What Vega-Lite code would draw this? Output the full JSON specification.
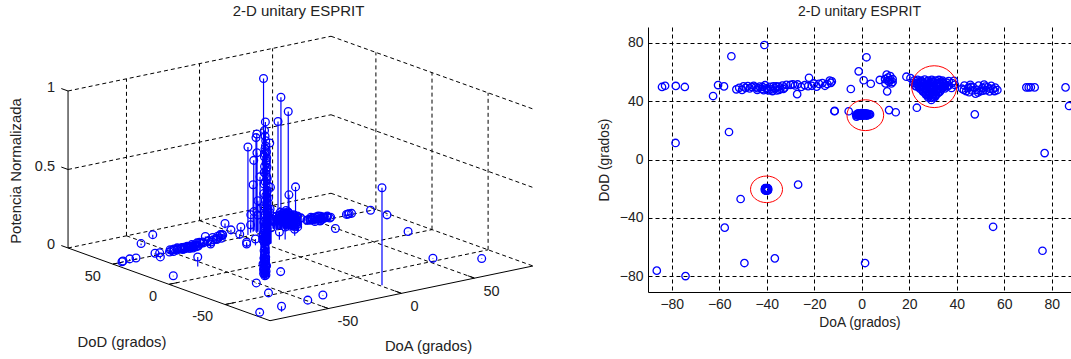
{"$schema":"https://vega.github.io/schema/vega-lite/v6.json","padding":{"left":0,"top":4,"right":0,"bottom":0},"spacing":0,"config":{"view":{"stroke":null},"font":"Liberation Sans","title":{"font":"Liberation Sans","color":"#222222","fontWeight":"normal"}},
"data":{"values":[
{"kind":"grid","line":"f1","doa":-50,"dod":-90,"z":0},{"kind":"grid","line":"f1","doa":-50,"dod":90,"z":0},
{"kind":"grid","line":"f2","doa":0,"dod":-90,"z":0},{"kind":"grid","line":"f2","doa":0,"dod":90,"z":0},
{"kind":"grid","line":"f3","doa":50,"dod":-90,"z":0},{"kind":"grid","line":"f3","doa":50,"dod":90,"z":0},
{"kind":"grid","line":"f4","doa":-90,"dod":-50,"z":0},{"kind":"grid","line":"f4","doa":90,"dod":-50,"z":0},
{"kind":"grid","line":"f5","doa":-90,"dod":0,"z":0},{"kind":"grid","line":"f5","doa":90,"dod":0,"z":0},
{"kind":"grid","line":"f6","doa":-90,"dod":50,"z":0},{"kind":"grid","line":"f6","doa":90,"dod":50,"z":0},
{"kind":"grid","line":"e1","doa":-90,"dod":90,"z":0},{"kind":"grid","line":"e1","doa":90,"dod":90,"z":0},
{"kind":"grid","line":"e2","doa":90,"dod":90,"z":0},{"kind":"grid","line":"e2","doa":90,"dod":-90,"z":0},
{"kind":"grid","line":"w1","doa":-90,"dod":90,"z":0.5},{"kind":"grid","line":"w1","doa":90,"dod":90,"z":0.5},
{"kind":"grid","line":"w2","doa":-90,"dod":90,"z":1},{"kind":"grid","line":"w2","doa":90,"dod":90,"z":1},
{"kind":"grid","line":"w3","doa":90,"dod":90,"z":0.5},{"kind":"grid","line":"w3","doa":90,"dod":-90,"z":0.5},
{"kind":"grid","line":"w4","doa":90,"dod":90,"z":1},{"kind":"grid","line":"w4","doa":90,"dod":-90,"z":1},
{"kind":"grid","line":"v1","doa":-50,"dod":90,"z":0},{"kind":"grid","line":"v1","doa":-50,"dod":90,"z":1},
{"kind":"grid","line":"v2","doa":0,"dod":90,"z":0},{"kind":"grid","line":"v2","doa":0,"dod":90,"z":1},
{"kind":"grid","line":"v3","doa":50,"dod":90,"z":0},{"kind":"grid","line":"v3","doa":50,"dod":90,"z":1},
{"kind":"grid","line":"v4","doa":90,"dod":50,"z":0},{"kind":"grid","line":"v4","doa":90,"dod":50,"z":1},
{"kind":"grid","line":"v5","doa":90,"dod":0,"z":0},{"kind":"grid","line":"v5","doa":90,"dod":0,"z":1},
{"kind":"grid","line":"v6","doa":90,"dod":-50,"z":0},{"kind":"grid","line":"v6","doa":90,"dod":-50,"z":1},
{"kind":"solid","line":"s1","doa":-90,"dod":90,"z":0},{"kind":"solid","line":"s1","doa":-90,"dod":90,"z":1},
{"kind":"solid","line":"s2","doa":-90,"dod":90,"z":0},{"kind":"solid","line":"s2","doa":-90,"dod":-90,"z":0},
{"kind":"solid","line":"s3","doa":-90,"dod":-90,"z":0},{"kind":"solid","line":"s3","doa":90,"dod":-90,"z":0},
{"kind":"solid","line":"t1","doa":-90,"dod":90,"z":1},{"kind":"solid","line":"t1","doa":-90,"dod":96,"z":1},
{"kind":"solid","line":"t2","doa":-90,"dod":90,"z":0.5},{"kind":"solid","line":"t2","doa":-90,"dod":96,"z":0.5},
{"kind":"solid","line":"t3","doa":-90,"dod":90,"z":0},{"kind":"solid","line":"t3","doa":-90,"dod":96,"z":0},
{"kind":"solid","line":"t4","doa":-90,"dod":50,"z":0},{"kind":"solid","line":"t4","doa":-84,"dod":50,"z":0},
{"kind":"solid","line":"t5","doa":-90,"dod":0,"z":0},{"kind":"solid","line":"t5","doa":-84,"dod":0,"z":0},
{"kind":"solid","line":"t6","doa":-90,"dod":-50,"z":0},{"kind":"solid","line":"t6","doa":-84,"dod":-50,"z":0},
{"kind":"solid","line":"t7","doa":-50,"dod":-90,"z":0},{"kind":"solid","line":"t7","doa":-50,"dod":-84,"z":0},
{"kind":"solid","line":"t8","doa":0,"dod":-90,"z":0},{"kind":"solid","line":"t8","doa":0,"dod":-84,"z":0},
{"kind":"solid","line":"t9","doa":50,"dod":-90,"z":0},{"kind":"solid","line":"t9","doa":50,"dod":-84,"z":0},
{"kind":"zl","label":"1","doa":-90,"dod":90,"z":1},{"kind":"zl","label":"0.5","doa":-90,"dod":90,"z":0.5},{"kind":"zl","label":"0","doa":-90,"dod":90,"z":0},
{"kind":"dl","label":"50","doa":-90,"dod":50,"z":0},{"kind":"dl","label":"0","doa":-90,"dod":0,"z":0},{"kind":"dl","label":"-50","doa":-90,"dod":-50,"z":0},
{"kind":"al","label":"-50","doa":-50,"dod":-90,"z":0},{"kind":"al","label":"0","doa":0,"dod":-90,"z":0},{"kind":"al","label":"50","doa":50,"dod":-90,"z":0},
{"kind":"td","label":"DoD (grados)","doa":-90,"dod":0,"z":0},
{"kind":"ta","label":"DoA (grados)","doa":0,"dod":-90,"z":0},
{"kind":"tz","label":"Potencia Normalizada","doa":-90,"dod":90,"z":0.5},
{"doa":-84.1,"dod":49.6,"z":0.005},{"doa":-82.8,"dod":50.4,"z":0.005},{"doa":-78.3,"dod":50.3,"z":0.01},{"doa":-74.5,"dod":49.6,"z":0.01},
{"doa":-62.6,"dod":43.4,"z":0.01},{"doa":-60.5,"dod":50.9,"z":0.01},{"doa":-58,"dod":50,"z":0.01},{"doa":-54.9,"dod":70.6,"z":0.01},
{"doa":-55.9,"dod":18.8,"z":0.06},{"doa":-78.4,"dod":11.3,"z":0.003},{"doa":-41,"dod":78.3,"z":0.02},{"doa":-27.2,"dod":44.7,"z":0.02},
{"doa":-22.2,"dod":55.9,"z":0.03},{"doa":-11.4,"dod":33.2,"z":0.03},{"doa":2,"dod":69.9,"z":0.03},{"doa":-1.3,"dod":60.3,"z":0.02},
{"doa":0.8,"dod":54.2,"z":0.05},{"doa":3.8,"dod":51.8,"z":0.56},{"doa":-4.6,"dod":48.2,"z":0.03},{"doa":7.6,"dod":54.4,"z":0.05},
{"doa":10.7,"dod":46.6,"z":0.08},{"doa":-13.5,"dod":53.9,"z":0.03},{"doa":-11.5,"dod":33,"z":0.02},{"doa":-5.5,"dod":33,"z":0.04},
{"doa":-2.2,"dod":29.3,"z":0.05},{"doa":11.5,"dod":33.8,"z":0.05},{"doa":14.3,"dod":32.3,"z":0.08},{"doa":18.8,"dod":56.6,"z":0.07},
{"doa":20.5,"dod":55.7,"z":0.1},{"doa":23.2,"dod":35.4,"z":0.04},{"doa":47.6,"dod":30.9,"z":0.01},{"doa":57.1,"dod":47.5,"z":0.02},
{"doa":77,"dod":4.4,"z":0.002},{"doa":69.3,"dod":49.3,"z":0.01},{"doa":70.3,"dod":49.3,"z":0.01},{"doa":71.2,"dod":49.4,"z":0.01},{"doa":72.8,"dod":49.3,"z":0.01},
{"doa":85.8,"dod":49.3,"z":0.005},{"doa":87.3,"dod":36.6,"z":0.005},{"doa":-26.8,"dod":-17.2,"z":0.003},{"doa":-51,"dod":-27,"z":0.003},
{"doa":-57.7,"dod":-46.6,"z":0.003},{"doa":-36.6,"dod":-67.6,"z":0.003},{"doa":-49.4,"dod":-70.8,"z":0.003},{"doa":-86.3,"dod":-76,"z":0.01},
{"doa":-74.2,"dod":-79.7,"z":0.035},{"doa":55.3,"dod":-46,"z":0.003},{"doa":76.1,"dod":-62.4,"z":0.003},{"doa":1.4,"dod":-70.8,"z":0.62},
{"doa":-52.8,"dod":48,"z":0.01},{"doa":-51.6,"dod":49,"z":0.02},{"doa":-50.4,"dod":47.6,"z":0.01},{"doa":-49.8,"dod":50,"z":0.01},{"doa":-48.9,"dod":49,"z":0.02},
{"doa":-48,"dod":50.2,"z":0.01},{"doa":-47.2,"dod":48.6,"z":0.01},{"doa":-46.3,"dod":49.6,"z":0.02},{"doa":-45.5,"dod":50.4,"z":0.01},{"doa":-44.6,"dod":49.4,"z":0.01},
{"doa":-43.8,"dod":48.8,"z":0.02},{"doa":-43,"dod":49.8,"z":0.01},{"doa":-42.1,"dod":48.2,"z":0.01},{"doa":-41.3,"dod":47.4,"z":0.02},{"doa":-40.7,"dod":50.8,"z":0.01},
{"doa":-40,"dod":48.9,"z":0.02},{"doa":-39.3,"dod":47.2,"z":0.01},{"doa":-38.6,"dod":49.7,"z":0.01},{"doa":-38,"dod":48,"z":0.02},{"doa":-37.2,"dod":50,"z":0.01},
{"doa":-36.5,"dod":48.6,"z":0.01},{"doa":-35.8,"dod":47.3,"z":0.02},{"doa":-35,"dod":49.9,"z":0.01},{"doa":-34.3,"dod":48.5,"z":0.02},{"doa":-33.4,"dod":50.6,"z":0.01},
{"doa":-32.5,"dod":49.2,"z":0.01},{"doa":-31.7,"dod":51,"z":0.02},{"doa":-30,"dod":51,"z":0.02},{"doa":-29,"dod":51.4,"z":0.01},{"doa":-28.1,"dod":50.6,"z":0.02},
{"doa":-27,"dod":51.3,"z":0.01},{"doa":-25.5,"dod":49.6,"z":0.02},{"doa":-24,"dod":50.8,"z":0.02},{"doa":-22.6,"dod":50.2,"z":0.01},{"doa":-21,"dod":50.4,"z":0.02},
{"doa":-20.2,"dod":52,"z":0.03},{"doa":-19,"dod":49.8,"z":0.02},{"doa":-18,"dod":51.7,"z":0.02},{"doa":-16.6,"dod":52.2,"z":0.03},{"doa":-15.5,"dod":50.4,"z":0.02},
{"doa":-14.5,"dod":51.6,"z":0.03},{"doa":-13,"dod":52.4,"z":0.03},{"doa":-12.6,"dod":53.4,"z":0.03},
{"doa":-44,"dod":47.6,"z":0.01},{"doa":-41.8,"dod":49.6,"z":0.01},{"doa":-39.8,"dod":47.8,"z":0.01},{"doa":-37.6,"dod":46.8,"z":0.01},{"doa":-36,"dod":50,"z":0.02},{"doa":-34.8,"dod":47.6,"z":0.01},{"doa":-33,"dod":48.2,"z":0.01},
{"doa":10,"dod":52,"z":0.63},{"doa":11,"dod":54,"z":0.6},{"doa":12,"dod":57,"z":0.12},{"doa":13,"dod":55,"z":0.1},{"doa":10.5,"dod":58,"z":0.1},{"doa":12.5,"dod":52,"z":0.15},
{"doa":11.5,"dod":53,"z":0.2},{"doa":9.8,"dod":55,"z":0.3},{"doa":13,"dod":53,"z":0.35},{"doa":11,"dod":56,"z":0.45},{"doa":12,"dod":54.5,"z":0.5},
{"doa":-40.1,"dod":-20.4,"z":0.01},{"doa":-39.8,"dod":-19.9,"z":0.02},{"doa":-40.4,"dod":-20.9,"z":0.03},{"doa":-39.7,"dod":-21,"z":0.04},{"doa":-40.5,"dod":-19.8,"z":0.05},
{"doa":-40,"dod":-19.5,"z":0.06},{"doa":-40.2,"dod":-21.3,"z":0.07},{"doa":-39.6,"dod":-20.4,"z":0.08},{"doa":-40.6,"dod":-20.4,"z":0.09},{"doa":-40,"dod":-20.9,"z":0.1},
{"doa":-39.9,"dod":-20,"z":0.11},{"doa":-40.3,"dod":-20,"z":0.12},{"doa":-39.8,"dod":-20.8,"z":0.13},{"doa":-40.1,"dod":-20.3,"z":0.15},{"doa":-40.3,"dod":-20.7,"z":0.19},
{"doa":-39.9,"dod":-19.7,"z":0.22},{"doa":-40.2,"dod":-19.9,"z":0.25},{"doa":-40,"dod":-21.1,"z":0.28},{"doa":-39.7,"dod":-20.2,"z":0.32},{"doa":-40.4,"dod":-20.6,"z":0.36},
{"doa":-40.1,"dod":-20.7,"z":0.4},{"doa":-39.9,"dod":-20.5,"z":0.44},
{"doa":-39.5,"dod":-20.6,"z":0.015},{"doa":-40.7,"dod":-20.1,"z":0.025},{"doa":-39.4,"dod":-20,"z":0.035},{"doa":-40.8,"dod":-20.8,"z":0.045},{"doa":-39.6,"dod":-19.6,"z":0.055},{"doa":-40.6,"dod":-21.1,"z":0.065},{"doa":-39.5,"dod":-21.2,"z":0.075},{"doa":-40.7,"dod":-19.6,"z":0.085},{"doa":-40,"dod":-20.2,"z":0.095},{"doa":-40.2,"dod":-20.6,"z":0.105},{"doa":-39.7,"dod":-20.6,"z":0.115},{"doa":-40.4,"dod":-20.2,"z":0.125},
{"doa":-40.2,"dod":-20.2,"z":0.14},{"doa":-39.8,"dod":-20.6,"z":0.16},{"doa":-40.5,"dod":-20.3,"z":0.17},{"doa":-39.6,"dod":-20.2,"z":0.18},{"doa":-40.3,"dod":-20.8,"z":0.2},{"doa":-39.8,"dod":-20.1,"z":0.21},{"doa":-40.4,"dod":-19.9,"z":0.23},{"doa":-39.7,"dod":-20.8,"z":0.24},{"doa":-40.2,"dod":-20.4,"z":0.26},{"doa":-39.9,"dod":-20.3,"z":0.27},
{"doa":0.5,"dod":30.9,"z":0.02},{"doa":-2.4,"dod":30.6,"z":0.04},{"doa":-1.8,"dod":31.2,"z":0.06},{"doa":-1.2,"dod":30.4,"z":0.08},{"doa":-0.6,"dod":31.4,"z":0.1},
{"doa":0,"dod":30.2,"z":0.12},{"doa":0.6,"dod":31.6,"z":0.14},{"doa":1.2,"dod":30.4,"z":0.16},{"doa":1.8,"dod":31.2,"z":0.18},{"doa":2.4,"dod":30.6,"z":0.2},
{"doa":3,"dod":31,"z":0.22},{"doa":3.5,"dod":30.8,"z":0.1},{"doa":-1.5,"dod":30.8,"z":0.25},{"doa":-0.8,"dod":30.5,"z":0.28},{"doa":0.2,"dod":31.2,"z":0.31},
{"doa":0.9,"dod":30.8,"z":0.34},{"doa":1.6,"dod":30.7,"z":0.37},{"doa":-0.4,"dod":30.9,"z":0.4},{"doa":0.4,"dod":30.5,"z":0.43},{"doa":-1,"dod":31.1,"z":0.46},
{"doa":1.1,"dod":31.3,"z":0.49},{"doa":-0.2,"dod":30.4,"z":0.52},{"doa":0.7,"dod":31,"z":0.55},{"doa":-0.7,"dod":30.8,"z":0.58},{"doa":-0.5,"dod":31,"z":0.61},
{"doa":-1.4,"dod":31.5,"z":0.07},{"doa":-0.9,"dod":30.1,"z":0.13},{"doa":-0.1,"dod":31.7,"z":0.19},{"doa":0.8,"dod":30.1,"z":0.23},{"doa":1.4,"dod":31.6,"z":0.26},{"doa":2.2,"dod":31.4,"z":0.29},{"doa":-2,"dod":30.2,"z":0.33},{"doa":2.8,"dod":30.4,"z":0.36},{"doa":-1.6,"dod":30.4,"z":0.39},{"doa":0.3,"dod":30.1,"z":0.42},
{"doa":-0.3,"dod":30.6,"z":0.45},{"doa":0.1,"dod":30.9,"z":0.47},{"doa":-1.1,"dod":30.6,"z":0.5},{"doa":0.5,"dod":31.1,"z":0.53},{"doa":-0.9,"dod":31,"z":0.56},{"doa":0.3,"dod":30.7,"z":0.59},{"doa":-0.6,"dod":30.4,"z":0.63},{"doa":0,"dod":31,"z":0.66},{"doa":-0.3,"dod":31.2,"z":0.69},
{"doa":2,"dod":30,"z":0.645},{"doa":-1.2,"dod":30.5,"z":0.73},{"doa":-1,"dod":30,"z":0.785},{"doa":-1.5,"dod":31,"z":1.06},
{"doa":25,"dod":50,"z":0.84},{"doa":30,"dod":50,"z":0.74},{"doa":23,"dod":50,"z":0.69},{"doa":35,"dod":50,"z":0.25},{"doa":32,"dod":52,"z":0.2},{"doa":27,"dod":48,"z":0.12},
{"doa":22,"dod":54,"z":0.06},{"doa":23.5,"dod":54.5,"z":0.05},{"doa":25,"dod":54,"z":0.07},{"doa":26.5,"dod":54.6,"z":0.05},{"doa":28,"dod":54,"z":0.06},{"doa":29.5,"dod":54.5,"z":0.08},{"doa":31,"dod":54,"z":0.05},{"doa":32.5,"dod":54.4,"z":0.06},{"doa":34,"dod":54,"z":0.05},
{"doa":21.8,"dod":52.4,"z":0.05},{"doa":23.2,"dod":52,"z":0.08},{"doa":24.6,"dod":52.5,"z":0.06},{"doa":26,"dod":52,"z":0.1},{"doa":27.4,"dod":52.4,"z":0.07},{"doa":28.8,"dod":52,"z":0.09},{"doa":30.2,"dod":52.4,"z":0.06},{"doa":31.6,"dod":52,"z":0.05},{"doa":33,"dod":52.4,"z":0.07},{"doa":34.4,"dod":52,"z":0.05},{"doa":35.8,"dod":52.5,"z":0.06},
{"doa":22.5,"dod":50.4,"z":0.06},{"doa":24,"dod":50.2,"z":0.09},{"doa":25.5,"dod":50.4,"z":0.07},{"doa":27,"dod":50.2,"z":0.1},{"doa":28.5,"dod":50.4,"z":0.08},{"doa":30,"dod":50.2,"z":0.1},{"doa":31.5,"dod":50.4,"z":0.07},{"doa":33,"dod":50.2,"z":0.05},{"doa":34.5,"dod":50.4,"z":0.06},{"doa":36,"dod":50.2,"z":0.04},
{"doa":24.5,"dod":48.4,"z":0.05},{"doa":26,"dod":48.2,"z":0.07},{"doa":27.5,"dod":48.4,"z":0.09},{"doa":29,"dod":48.2,"z":0.1},{"doa":30.5,"dod":48.4,"z":0.08},{"doa":32,"dod":48.2,"z":0.06},{"doa":33.5,"dod":48.4,"z":0.05},{"doa":35,"dod":48.6,"z":0.04},
{"doa":25.8,"dod":46.4,"z":0.05},{"doa":27.2,"dod":46.2,"z":0.06},{"doa":28.6,"dod":46.4,"z":0.08},{"doa":30,"dod":46.2,"z":0.07},{"doa":31.4,"dod":46.4,"z":0.06},{"doa":32.8,"dod":46.2,"z":0.05},
{"doa":27,"dod":44.4,"z":0.04},{"doa":28.4,"dod":44.2,"z":0.05},{"doa":29.8,"dod":44.4,"z":0.06},{"doa":31.2,"dod":44.2,"z":0.05},{"doa":28,"dod":42.4,"z":0.04},{"doa":29.4,"dod":42.2,"z":0.05},{"doa":30.6,"dod":42.4,"z":0.04},{"doa":29.3,"dod":40.7,"z":0.03},
{"doa":23,"dod":53.4,"z":0.04},{"doa":25.2,"dod":53.2,"z":0.06},{"doa":27.4,"dod":53.3,"z":0.05},{"doa":29.6,"dod":53.2,"z":0.07},{"doa":31.8,"dod":53.3,"z":0.06},{"doa":33.8,"dod":53.2,"z":0.05},
{"doa":23.4,"dod":51.3,"z":0.06},{"doa":25.4,"dod":51.2,"z":0.07},{"doa":27.4,"dod":51.3,"z":0.08},{"doa":29.4,"dod":51.2,"z":0.09},{"doa":31.4,"dod":51.3,"z":0.06},{"doa":33.4,"dod":51.2,"z":0.05},{"doa":35.2,"dod":51.3,"z":0.05},
{"doa":24.4,"dod":49.3,"z":0.06},{"doa":26.4,"dod":49.2,"z":0.08},{"doa":28.4,"dod":49.3,"z":0.09},{"doa":30.4,"dod":49.2,"z":0.08},{"doa":32.4,"dod":49.3,"z":0.06},{"doa":34.2,"dod":49.2,"z":0.05},
{"doa":25.6,"dod":47.3,"z":0.05},{"doa":27.6,"dod":47.2,"z":0.07},{"doa":29.6,"dod":47.3,"z":0.08},{"doa":31.6,"dod":47.2,"z":0.06},{"doa":33.2,"dod":47.3,"z":0.05},
{"doa":26.8,"dod":45.3,"z":0.04},{"doa":28.6,"dod":45.2,"z":0.06},{"doa":30.4,"dod":45.3,"z":0.06},{"doa":32,"dod":45.2,"z":0.04},{"doa":28.2,"dod":43.3,"z":0.04},{"doa":30,"dod":43.2,"z":0.05},{"doa":31,"dod":43.3,"z":0.04},
{"doa":36.6,"dod":53.6,"z":0.06},{"doa":38,"dod":52.3,"z":0.05},{"doa":38.8,"dod":53.8,"z":0.04},{"doa":37.8,"dod":48.9,"z":0.05},{"doa":36.6,"dod":50.5,"z":0.06},{"doa":39.2,"dod":51,"z":0.04},
{"doa":42.2,"dod":48.4,"z":0.03},{"doa":43.2,"dod":50.6,"z":0.02},{"doa":44,"dod":46.8,"z":0.03},{"doa":44.8,"dod":49,"z":0.04},{"doa":45.7,"dod":51,"z":0.02},{"doa":46.4,"dod":47.2,"z":0.03},{"doa":47,"dod":49.4,"z":0.03},{"doa":47.9,"dod":45,"z":0.02},{"doa":48.5,"dod":47.6,"z":0.04},{"doa":49.2,"dod":50.5,"z":0.03},
{"doa":50,"dod":46.8,"z":0.03},{"doa":50.8,"dod":48.8,"z":0.02},{"doa":51.5,"dod":51.2,"z":0.03},{"doa":52.3,"dod":47.4,"z":0.03},{"doa":53,"dod":49.4,"z":0.02},{"doa":53.8,"dod":46.6,"z":0.03},{"doa":54.5,"dod":50.4,"z":0.02},{"doa":55.2,"dod":48,"z":0.03},{"doa":55.9,"dod":46.8,"z":0.02},{"doa":56.2,"dod":49.2,"z":0.02},
{"doa":43,"dod":47.6,"z":0.03},{"doa":45.2,"dod":46,"z":0.02},{"doa":46,"dod":49.6,"z":0.03},{"doa":49,"dod":45.8,"z":0.02},{"doa":51,"dod":47,"z":0.02},{"doa":52,"dod":49.8,"z":0.03},{"doa":54,"dod":48.4,"z":0.02}
]},
"hconcat":[
{"width":597,"height":265,"title":{"text":"2-D unitary ESPRIT","fontSize":15,"offset":8},
"transform":[
{"calculate":"270+(datum.doa+90)*1.461-(datum.dod+90)*1.122","as":"sx"},
{"calculate":"320.7-(datum.doa+90)*0.304-(datum.dod+90)*0.404","as":"sy0"},
{"calculate":"datum.sy0-datum.z*157","as":"sy"}],
"encoding":{"x":{"field":"sx","type":"quantitative","axis":null,"scale":{"domain":[0,597],"nice":false,"zero":false}},
"y":{"field":"sy","type":"quantitative","axis":null,"scale":{"domain":[292,27],"nice":false,"zero":false}}},
"layer":[
{"transform":[{"filter":"datum.kind=='grid'"}],"mark":{"type":"line","color":"#000000","strokeWidth":1,"strokeDash":[4,3],"clip":false},"encoding":{"detail":{"field":"line"}}},
{"transform":[{"filter":"datum.kind=='solid'"}],"mark":{"type":"line","color":"#000000","strokeWidth":1,"clip":false},"encoding":{"detail":{"field":"line"}}},
{"transform":[{"filter":"!datum.kind"}],"mark":{"type":"rule","color":"#0000ff","strokeWidth":1.2},"encoding":{"y2":{"field":"sy0"}}},
{"transform":[{"filter":"!datum.kind"}],"mark":{"type":"point","shape":"circle","filled":false,"color":"#0000ff","strokeWidth":1.3,"size":60,"opacity":1}},
{"transform":[{"filter":"datum.kind=='zl'"}],"mark":{"type":"text","align":"right","baseline":"middle","dx":-13,"dy":-2.6,"fontSize":14.5,"color":"#222222"},"encoding":{"text":{"field":"label"}}},
{"transform":[{"filter":"datum.kind=='dl'"}],"mark":{"type":"text","align":"right","baseline":"middle","dx":-12,"dy":12.7,"fontSize":14.5,"color":"#222222"},"encoding":{"text":{"field":"label"}}},
{"transform":[{"filter":"datum.kind=='al'"}],"mark":{"type":"text","align":"left","baseline":"middle","dx":9,"dy":13.5,"fontSize":14.5,"color":"#222222"},"encoding":{"text":{"field":"label"}}},
{"transform":[{"filter":"datum.kind=='td'"}],"mark":{"type":"text","align":"center","baseline":"middle","dx":-47,"dy":59,"fontSize":14.8,"color":"#222222"},"encoding":{"text":{"field":"label"}}},
{"transform":[{"filter":"datum.kind=='ta'"}],"mark":{"type":"text","align":"center","baseline":"middle","dx":27,"dy":54,"fontSize":14.8,"color":"#222222"},"encoding":{"text":{"field":"label"}}},
{"transform":[{"filter":"datum.kind=='tz'"}],"mark":{"type":"text","align":"center","baseline":"middle","angle":270,"dx":-1.5,"dy":-51,"fontSize":14.9,"color":"#222222"},"encoding":{"text":{"field":"label"}}}
]},
{"width":423,"height":265,"title":{"text":"2-D unitary ESPRIT","fontSize":14,"offset":8},
"layer":[
{"transform":[{"filter":"!datum.kind"}],"mark":{"type":"point","shape":"circle","filled":false,"color":"#0000ff","strokeWidth":1.3,"size":55,"opacity":1,"clip":false},
"encoding":{"x":{"field":"doa","type":"quantitative","title":"DoA (grados)","scale":{"domain":[-90,88.1],"nice":false,"zero":false},
"axis":{"values":[-80,-60,-40,-20,0,20,40,60,80],"labelOverlap":false,"grid":true,"gridColor":"#000000","gridOpacity":1,"gridDash":[4,3],"gridWidth":1,"domainColor":"#000000","ticks":false,"labelPadding":5,"labelFontSize":14,"labelColor":"#222222","labelFont":"Liberation Sans","titleFontSize":13.8,"titleFont":"Liberation Sans","titleFontWeight":"normal","titleColor":"#222222","titlePadding":4,"labelFlush":false}},
"y":{"field":"dod","type":"quantitative","title":"DoD (grados)","scale":{"domain":[-90.6,90.6],"nice":false,"zero":false},
"axis":{"values":[-80,-60,-40,-20,0,20,40,60,80],"labelOverlap":false,"grid":true,"gridColor":"#000000","gridOpacity":1,"gridDash":[4,3],"gridWidth":1,"domainColor":"#000000","ticks":false,"labelPadding":5,"labelFontSize":14,"labelColor":"#222222","labelFont":"Liberation Sans","titleFontSize":13.8,"titleFont":"Liberation Sans","titleFontWeight":"normal","titleColor":"#222222","titlePadding":8,"labelFlush":false}}}},
{"data":{"values":[{"doa":-40.1,"dod":-20.4}]},"mark":{"type":"point","shape":"M-1,0C-1,-.46,-.5523,-.83,0,-.83C.5523,-.83,1,-.46,1,0C1,.46,.5523,.83,0,.83C-.5523,.83,-1,.46,-1,0Z","filled":false,"color":"#ff0000","strokeWidth":1,"size":1024,"opacity":1},"encoding":{"x":{"field":"doa","type":"quantitative"},"y":{"field":"dod","type":"quantitative"}}},
{"data":{"values":[{"doa":1.5,"dod":30.3}]},"mark":{"type":"point","shape":"M-1,0C-1,-.46,-.5523,-.84,0,-.84C.5523,-.84,1,-.46,1,0C1,.46,.5523,.84,0,.84C-.5523,.84,-1,.46,-1,0Z","filled":false,"color":"#ff0000","strokeWidth":1,"size":1347,"opacity":1},"encoding":{"x":{"field":"doa","type":"quantitative"},"y":{"field":"dod","type":"quantitative"}}},
{"data":{"values":[{"doa":30.5,"dod":49.8}]},"mark":{"type":"point","shape":"M-1,0C-1,-.51,-.5523,-.93,0,-.93C.5523,-.93,1,-.51,1,0C1,.51,.5523,.93,0,.93C-.5523,.93,-1,.51,-1,0Z","filled":false,"color":"#ff0000","strokeWidth":1,"size":2025,"opacity":1},"encoding":{"x":{"field":"doa","type":"quantitative"},"y":{"field":"dod","type":"quantitative"}}}
]}
]}
